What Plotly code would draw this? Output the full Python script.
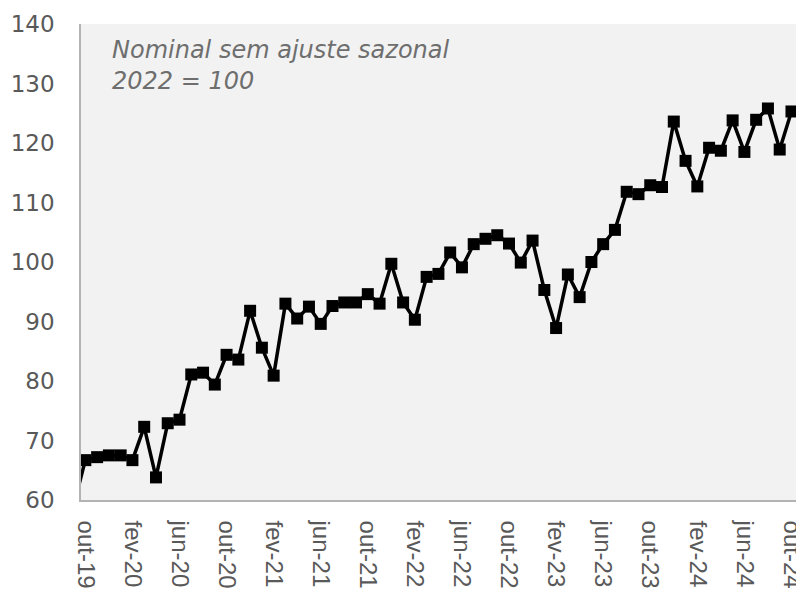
import plotly.graph_objects as go

# Monthly index, set-19 (clipped at left edge) through out-24
values = [
    59.0,                                                   # set-19 (partly outside the axis)
    66.7, 67.2, 67.5, 67.5, 66.7, 72.3, 63.8, 72.9, 73.5,   # out-19 .. jun-20
    81.1, 81.4, 79.4, 84.4, 83.6, 91.8, 85.6, 80.9, 93.0,   # jul-20 .. mar-21
    90.5, 92.5, 89.6, 92.6, 93.2, 93.2, 94.6, 93.0, 99.7,   # abr-21 .. dez-21
    93.2, 90.3, 97.5, 98.0, 101.6, 99.1, 103.0, 103.9, 104.5,  # jan-22 .. set-22
    103.1, 99.9, 103.6, 95.3, 88.9, 97.9, 94.1, 100.0, 103.0,  # out-22 .. jun-23
    105.4, 111.8, 111.4, 112.9, 112.6, 123.6, 117.0, 112.7, 119.2,  # jul-23 .. mar-24
    118.7, 123.8, 118.5, 123.9, 125.8, 118.9, 125.3,        # abr-24 .. out-24
]
tick_labels = ["out-19", "fev-20", "jun-20", "out-20", "fev-21", "jun-21",
               "out-21", "fev-22", "jun-22", "out-22", "fev-23", "jun-23",
               "out-23", "fev-24", "jun-24", "out-24"]
tick_step = 4
y_ticks = [60, 70, 80, 90, 100, 110, 120, 130, 140]
note_text = "Nominal sem ajuste sazonal<br>2022 = 100"

# month index: out-19 = 0
x = list(range(-1, len(values) - 1))
tick_pos = [i * tick_step for i in range(len(tick_labels))]

fig = go.Figure()
fig.add_trace(go.Scatter(
    x=x, y=values, mode="lines+markers",
    line=dict(color="#000000", width=3.5),
    marker=dict(symbol="square", size=12, color="#000000"),
    showlegend=False, cliponaxis=True,
))

grey = "#595959"
fig.update_layout(
    width=804, height=595,
    margin=dict(l=73, r=13, t=16, b=103, autoexpand=False),
    paper_bgcolor="#ffffff",
    plot_bgcolor="#f2f2f2",
    showlegend=False,
    annotations=[dict(
        text=note_text, xref="paper", yref="paper",
        x=0.04, y=0.98, xanchor="left", yanchor="top",
        align="left", showarrow=False,
        font=dict(family="DejaVu Sans", size=24, color="#6e6e6e", style="italic"),
    )],
)
fig.update_xaxes(
    range=[-0.37, 60.64], automargin=False,
    tickmode="array", tickvals=tick_pos, ticktext=tick_labels,
    tickangle=90, showgrid=False, zeroline=False,
    showline=True, linecolor="#b3b3b3", linewidth=1.5,
    ticks="", ticklabelstandoff=14,
    tickfont=dict(family="Liberation Sans", size=24, color=grey),
)
fig.update_yaxes(
    range=[60, 140], automargin=False,
    tickmode="array", tickvals=y_ticks,
    showgrid=False, zeroline=False,
    showline=True, linecolor="#b3b3b3", linewidth=1.5,
    ticks="", ticklabelstandoff=20,
    tickfont=dict(family="DejaVu Sans", size=23, color=grey),
)

fig.write_html("out.html")
